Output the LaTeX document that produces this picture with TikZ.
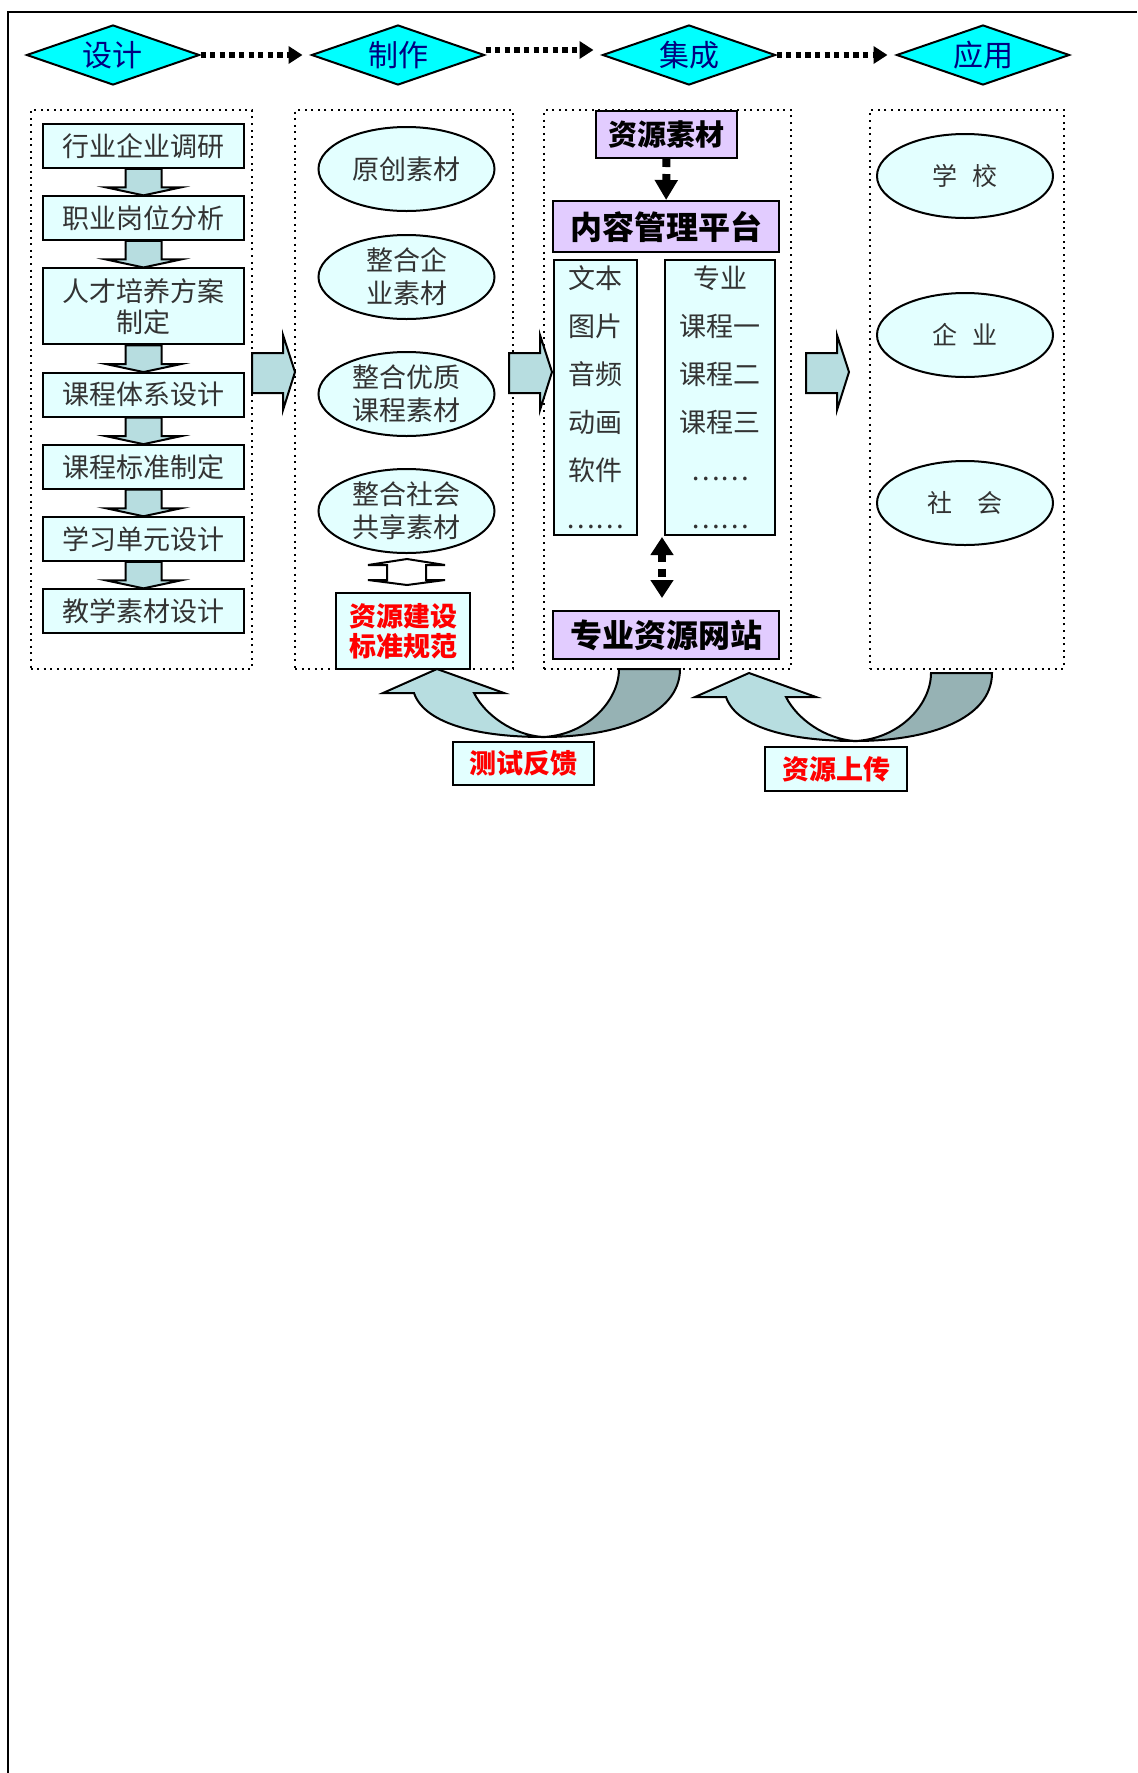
\documentclass[tikz,border=0pt]{standalone}
\usepackage{fontspec}
\setmainfont{Noto Sans CJK SC}
\usetikzlibrary{arrows.meta,positioning,calc,shapes.geometric}
\definecolor{cyanfill}{RGB}{0,255,255}
\definecolor{navytext}{RGB}{0,0,128}
\definecolor{paleblue}{RGB}{227,255,255}
\definecolor{arrowblue}{RGB}{183,221,224}
\definecolor{arrowgrey}{RGB}{150,178,180}
\definecolor{lilac}{RGB}{226,204,255}
\definecolor{darktext}{RGB}{51,51,51}
\newcommand{\nsize}{\fontsize{13.5pt}{15.5pt}\selectfont}
% block arrow between two boxes of the first column
\newcommand{\dnarrow}[2]{\draw[blockarrow] let \p1=(#1.south), \p2=(#2.north) in
  (\x1-9pt,\y1) -- (\x1-9pt,\y2+4pt) -- (\x1-18.75pt,\y2+4pt) -- (\x1,\y2)
  -- (\x1+18.75pt,\y2+4pt) -- (\x1+9pt,\y2+4pt) -- (\x1+9pt,\y1) -- cycle;}
% wide arrow from one column to the next
\newcommand{\rtarrow}[1]{\draw[blockarrow] (#1,353) -- (#1+31,353) -- (#1+31,335)
  -- (#1+43,372) -- (#1+31,410) -- (#1+31,393) -- (#1,393) -- cycle;}
% curved arrow back under the columns
\newcommand{\backarrow}[2]{%
  \begin{scope}[shift={(#1,#2)}]
    \draw[blockarrow] (-54,24) -- (0,0) -- (67,24) -- (37,24)
      .. controls (48,46) and (76,66) .. (106,68)
      .. controls (45,68) and (-12,56) .. (-23,24) -- cycle;
    \draw[blockarrow, fill=arrowgrey] (106,68) .. controls (180,68) and (243,46) .. (243,0)
      -- (182,0) .. controls (182,32) and (150,66) .. (106,68) -- cycle;
  \end{scope}}

\begin{document}
\begin{tikzpicture}[x=0.5pt, y=-0.5pt, node distance=13.3pt,
  stage/.style={diamond, draw, line width=1pt, fill=cyanfill, text=navytext, shape aspect=2.9,
    minimum width=86.5pt, minimum height=30pt, inner sep=0pt, font=\fontsize{15pt}{17pt}\selectfont},
  colframe/.style={draw, line width=1pt, dash pattern=on 1pt off 2.3pt, minimum height=279.5pt, inner sep=0pt},
  stepbox/.style={draw, line width=1pt, fill=paleblue, text=darktext, minimum width=100.5pt,
    minimum height=21.75pt, inner sep=0pt, align=center, font=\nsize},
  oval/.style={ellipse, draw, line width=1pt, fill=paleblue, text=darktext, minimum width=88pt,
    minimum height=42pt, inner sep=0pt, align=center, font=\fontsize{13.5pt}{16.5pt}\selectfont},
  platform/.style={draw, line width=1pt, fill=lilac, inner sep=0pt, font=\bfseries\fontsize{16pt}{18pt}\selectfont},
  listbox/.style={draw, line width=1pt, fill=paleblue, text=darktext, minimum height=137.5pt,
    inner sep=0pt, align=center, font=\fontsize{13.5pt}{24pt}\selectfont},
  redbox/.style={draw, line width=1pt, fill=paleblue, text=red, inner sep=0pt, align=center,
    font=\bfseries\fontsize{13.5pt}{15pt}\selectfont},
  blockarrow/.style={draw, line width=1pt, fill=arrowblue, line join=miter},
  dotarrow/.style={line width=2.6pt, dash pattern=on 2.6pt off 2.2pt, -{Triangle[length=7pt,width=8.5pt]}},
  vdot/.style={line width=4pt, dash pattern=on 4pt off 3.5pt}]
\useasboundingbox (0,0) rectangle (1137,1773);
\draw[line width=1pt] (8,1773) -- (8,12) -- (1137,12);
%
% column frames
\node (F1) [colframe, minimum width=110.75pt] at (141.25,389.5) {};
\node (F2) [colframe, minimum width=109pt] at (404,389.5) {};
\node (F3) [colframe, minimum width=123.5pt] at (667.5,389.5) {};
\node (F4) [colframe, minimum width=97pt] at (967,389.5) {};
%
% stages
\node (D1) [stage] at (113,55) {设计};
\node (D2) [stage] at (398,55) {制作};
\node (D3) [stage] at (689,55) {集成};
\node (D4) [stage] at (983,55) {应用};
\draw[dotarrow, shorten >=4pt] (D1.east) -- (D2.west);
\draw[dotarrow, shorten >=4pt] ([yshift=2.5pt]D2.east) -- ([yshift=2.5pt]D3.west);
\draw[dotarrow, shorten >=4pt] (D3.east) -- (D4.west);
%
% design
\node (B1) [stepbox] at (143.5,146) {行业企业调研};
\node (B2) [stepbox, below=of B1] {职业岗位分析};
\node (B3) [stepbox, below=of B2, minimum height=38pt] {人才培养方案\\制定};
\node (B4) [stepbox, below=of B3] {课程体系设计};
\node (B5) [stepbox, below=of B4] {课程标准制定};
\node (B6) [stepbox, below=of B5] {学习单元设计};
\node (B7) [stepbox, below=of B6] {教学素材设计};
\foreach \a/\b in {B1/B2,B2/B3,B3/B4,B4/B5,B5/B6,B6/B7} {\dnarrow{\a}{\b}}
%
\rtarrow{252}
\rtarrow{509}
\rtarrow{806}
%
% production
\node (E1) [oval] at (406.5,169) {原创素材};
\node (E2) [oval] at (406.5,277) {整合企\\业素材};
\node (E3) [oval] at (406.5,394) {整合优质\\课程素材};
\node (E4) [oval] at (406.5,511) {整合社会\\共享素材};
\draw[line width=1pt, fill=white] (368,565) -- (407,559) -- (445,565) -- (426,565) -- (426,580)
  -- (445,580) -- (407,585) -- (368,580) -- (387,580) -- (387,565) -- cycle;
\node (S1) [redbox, minimum width=67pt, minimum height=38pt] at (403,631) {资源建设\\标准规范};
%
% integration
\node (R1) [platform, minimum width=70.5pt, minimum height=23.5pt,
  font=\bfseries\fontsize{14.5pt}{16pt}\selectfont] at (666.5,134.5) {资源素材};
\node (P1) [platform, minimum width=113pt, minimum height=25.5pt] at (666,226.5) {内容管理平台};
\node (L1) [listbox, minimum width=41.5pt] at (595.5,397.5) {文本\\图片\\音频\\动画\\软件\\……};
\node (L2) [listbox, minimum width=55pt] at (720,397.5) {专业\\课程一\\课程二\\课程三\\……\\……};
\node (W1) [platform, minimum width=113pt, minimum height=24pt] at (666,635) {专业资源网站};
\draw[vdot, -{Triangle[length=10pt,width=11pt]}] (R1) -- (P1);
\coordinate (c1) at (662,537);
\coordinate (c2) at (662,598);
\draw[vdot, {Triangle[length=9pt,width=11pt]}-{Triangle[length=9pt,width=11pt]}] (c1) -- (c2);
%
% application
\node (A1) [oval, font=\fontsize{12.5pt}{15pt}\selectfont] at (965,176) {学\hspace{0.6em}校};
\node (A2) [oval, font=\fontsize{12.5pt}{15pt}\selectfont] at (965,335) {企\hspace{0.6em}业};
\node (A3) [oval, font=\fontsize{12.5pt}{15pt}\selectfont] at (965,503) {社\hspace{1em}会};
%
% feedback loops
\backarrow{437}{669}
\backarrow{749}{673}
\node (T1) [redbox, minimum width=70.5pt, minimum height=21.5pt] at (523.5,763.5) {测试反馈};
\node (T2) [redbox, minimum width=71pt, minimum height=22pt] at (836,769) {资源上传};
\end{tikzpicture}
\end{document}
